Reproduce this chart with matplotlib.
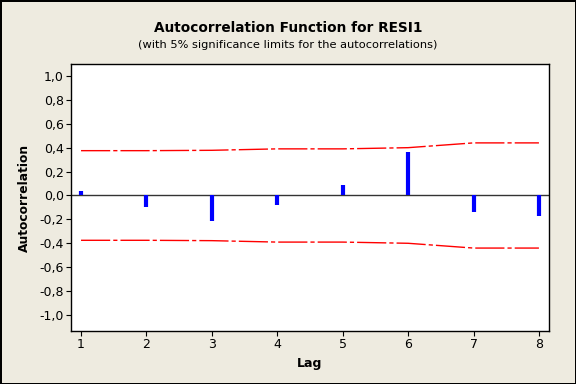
import matplotlib
matplotlib.use("Agg")
import matplotlib.pyplot as plt
import numpy as np

lags = [1, 2, 3, 4, 5, 6, 7, 8]
acf = [0.04, -0.10, -0.215, -0.08, 0.085, 0.36, -0.14, -0.17]
upper = [0.375, 0.375, 0.378, 0.39, 0.39, 0.40, 0.44, 0.44]
lower = [-u for u in upper]
ytick_vals = [1.0, 0.8, 0.6, 0.4, 0.2, 0.0, -0.2, -0.4, -0.6, -0.8, -1.0]
ytick_labels = ["%.1f" % v for v in ytick_vals]
ytick_labels = [s.replace(".", ",") for s in ytick_labels]

bg = "#eeebe0"
fig = plt.figure(figsize=(5.76, 3.84), dpi=100, facecolor=bg,
                 edgecolor="black", linewidth=1)
ax = fig.add_axes([0.1233, 0.138, 0.8297, 0.6953])
ax.set_facecolor("white")

ax.axhline(0, color="#333333", lw=1, zorder=1)
ax.vlines(lags, 0, acf, color="#0000ff", lw=3, zorder=3)
dash = (0, (21, 2.2, 3, 2.2))
ax.plot(lags, upper, color="red", lw=1, linestyle=dash, zorder=2)
ax.plot(lags, lower, color="red", lw=1, linestyle=dash, zorder=2)

ax.set_xlim(0.847, 8.153)
ax.set_ylim(-1.134, 1.1)
ax.set_xticks(lags)
ax.set_yticks(ytick_vals)
ax.set_yticklabels(ytick_labels)
ax.tick_params(direction="out", length=3.6, pad=1.5, labelsize=9, color="black")
for s in ax.spines.values():
    s.set_linewidth(1)
    s.set_color("black")

ax.set_xlabel("Lag", fontsize=9, fontweight="bold", labelpad=4)
ax.set_ylabel("Autocorrelation", fontsize=8.8, fontweight="bold", labelpad=6)

fig.text(0.5, 0.928, "Autocorrelation Function for RESI1", ha="center",
         va="center", fontsize=9.8, fontweight="bold")
fig.text(0.5, 0.883, "(with 5% significance limits for the autocorrelations)",
         ha="center", va="center", fontsize=8.2)

fig.savefig("out.png", dpi=100, facecolor=bg, edgecolor="black")
